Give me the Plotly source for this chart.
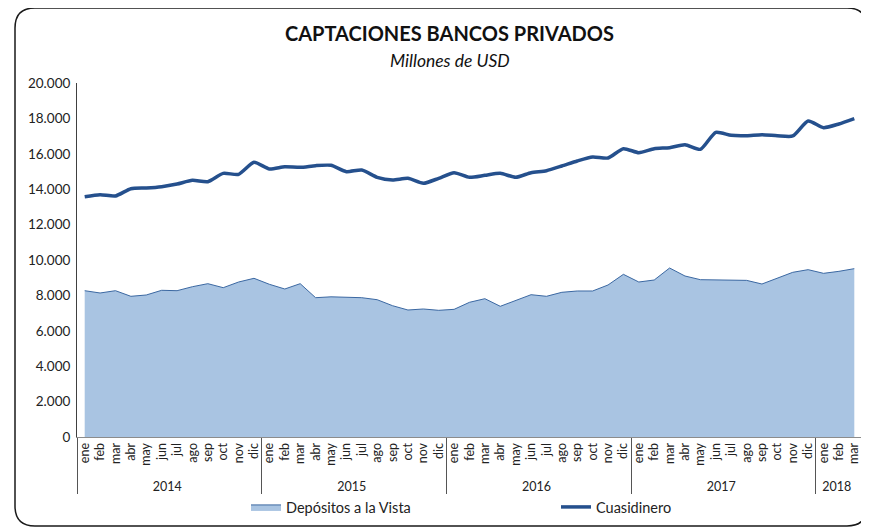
import plotly.graph_objects as go

years = ["2014"] * 12 + ["2015"] * 12 + ["2016"] * 12 + ["2017"] * 12 + ["2018"] * 3
month_names = ["ene", "feb", "mar", "abr", "may", "jun", "jul", "ago", "sep", "oct", "nov", "dic"]
months = month_names * 4 + month_names[:3]

depositos_vista = [
    8266, 8136, 8266, 7949, 8023, 8288, 8266, 8492, 8662, 8436, 8757, 8966,
    8627, 8362, 8662, 7870, 7920, 7910, 7870, 7757, 7418, 7175, 7232, 7157,
    7213, 7610, 7814, 7384, 7723, 8040, 7949, 8175, 8249, 8249, 8588, 9190,
    8757, 8870, 9548, 9096, 8888, 8888, 8850, 8850, 8644, 8966, 9304, 9454,
    9247, 9360, 9511,
]
cuasidinero = [
    13576, 13689, 13616, 14029, 14068, 14143, 14294, 14500, 14425, 14896, 14840, 15518,
    15141, 15273, 15235, 15330, 15348, 14990, 15085, 14672, 14520, 14614, 14332, 14614,
    14934, 14672, 14784, 14896, 14672, 14934, 15047, 15311, 15593, 15819, 15763, 16290,
    16064, 16290, 16347, 16516, 16253, 17213, 17043, 17025, 17081, 17025, 17006, 17853,
    17477, 17684, 17985,
]

FONT = "Lato"
OFF = 8  # page body margin
W, H = 869 - OFF, 530 - OFF
# plot area in screenshot pixels: x 77..862, y 83..437
L = 77 - OFF
T = 83 - OFF
R = W - (862 - OFF)
B = H - (437 - OFF)
PW = W - L - R
PH = H - T - B


def px(x):
    return (x - OFF - L) / PW


def py(y):
    return (437 - y) / PH


fig = go.Figure()
fig.add_trace(go.Scatter(
    x=[years, months], y=depositos_vista, name="Depósitos a la Vista",
    mode="lines", fill="tozeroy", fillcolor="#A9C4E2",
    line=dict(color="#3B68A2", width=1),
))
fig.add_trace(go.Scatter(
    x=[years, months], y=cuasidinero, name="Cuasidinero",
    mode="lines", line=dict(color="#25508D", width=3.5, shape="spline", smoothing=0.6),
))

# rounded outer frame
x0, x1, y0, y1, r = 15, 867, 8, 526, 20
path = (
    f"M {px(x0 + r)},{py(y0)} L {px(x1 - r)},{py(y0)} "
    f"Q {px(x1)},{py(y0)} {px(x1)},{py(y0 + r)} "
    f"L {px(x1)},{py(y1 - r)} Q {px(x1)},{py(y1)} {px(x1 - r)},{py(y1)} "
    f"L {px(x0 + r)},{py(y1)} Q {px(x0)},{py(y1)} {px(x0)},{py(y1 - r)} "
    f"L {px(x0)},{py(y0 + r)} Q {px(x0)},{py(y0)} {px(x0 + r)},{py(y0)} Z"
)
fig.add_shape(type="path", path=path, xref="paper", yref="paper",
              line=dict(color="#1a1a1a", width=1.5), layer="above")

fig.add_annotation(text="<b>CAPTACIONES BANCOS PRIVADOS</b>", x=px(449), y=py(33),
                   xref="paper", yref="paper", showarrow=False,
                   xanchor="center", yanchor="middle",
                   font=dict(family=FONT, size=20, color="#111111"))
fig.add_annotation(text="<i>Millones de USD</i>", x=px(450), y=py(60),
                   xref="paper", yref="paper", showarrow=False,
                   xanchor="center", yanchor="middle",
                   font=dict(family=FONT, size=17.5, color="#111111"))

fig.update_layout(
    width=W, height=H,
    margin=dict(l=L, r=R, t=T, b=B, autoexpand=False),
    paper_bgcolor="white", plot_bgcolor="white",
    separators=",.",
    font=dict(family=FONT, size=12, color="#404040"),
    showlegend=True,
    legend=dict(orientation="h", x=px(246), xanchor="left", y=py(507), yanchor="middle",
                font=dict(family=FONT, size=14.5, color="#222222"),
                entrywidth=265, entrywidthmode="pixels",
                bgcolor="rgba(0,0,0,0)"),
    xaxis=dict(
        type="multicategory", range=[-0.5, 50.5], showgrid=False, zeroline=False,
        automargin=False, showline=True, linecolor="#8c8c8c", linewidth=1,
        tickangle=-90, ticks="", showdividers=True, dividercolor="#555555",
        dividerwidth=1, tickfont=dict(family=FONT, size=12.5, color="#222222"),
    ),
    yaxis=dict(
        range=[0, 20000], dtick=2000, tickformat=",d", showgrid=False, automargin=False,
        zeroline=False, showline=True, linecolor="#404040", linewidth=1,
        ticks="", ticklabelstandoff=3, tickfont=dict(family=FONT, size=13.5, color="#222222"),
    ),
)

fig.write_html("out.html")
